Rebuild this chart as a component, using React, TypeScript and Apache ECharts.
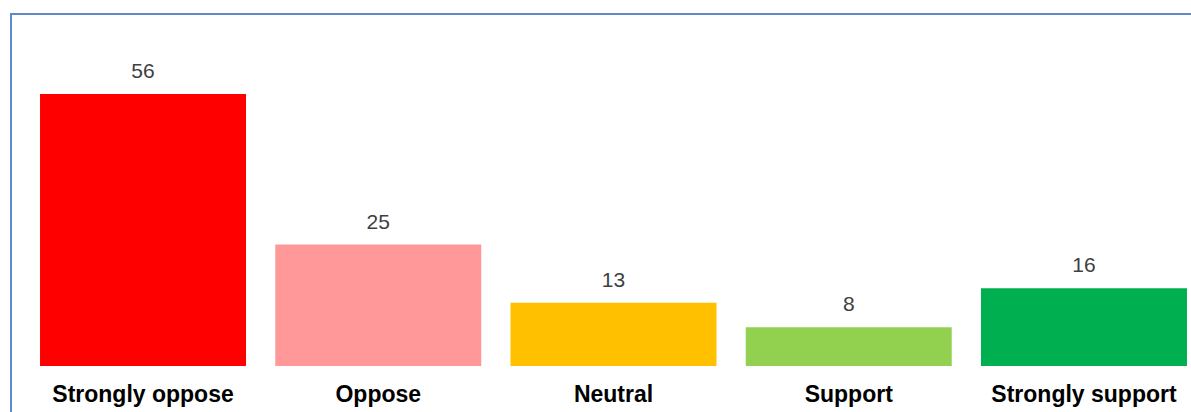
import React, { useEffect, useRef } from "react";
import * as echarts from "echarts";

const categories = ["Strongly oppose", "Oppose", "Neutral", "Support", "Strongly support"];
const values = [56, 25, 13, 8, 16];
const barColors = ["#FF0000", "#FF9999", "#FFC000", "#92D050", "#00B050"];

export default function App() {
  const ref = useRef<HTMLDivElement>(null);
  useEffect(() => {
    if (!ref.current) return;
    const chart = echarts.init(ref.current, undefined, { renderer: "svg" });
    chart.setOption({
      animation: false,
      backgroundColor: "#ffffff",
      grid: { left: 25.4, width: 1176.2, top: 94, bottom: 46 },
      xAxis: {
        type: "category",
        data: categories,
        axisLine: { show: false },
        axisTick: { show: false },
        axisLabel: {
          color: "#000000",
          fontWeight: "bold",
          fontSize: 23,
          fontFamily: "Liberation Sans, Arial, sans-serif",
          margin: 16.5,
          interval: 0,
        },
      },
      yAxis: {
        type: "value",
        min: 0,
        max: 56,
        show: false,
        splitLine: { show: false },
      },
      series: [
        {
          type: "bar",
          data: values.map((v, i) => ({ value: v, itemStyle: { color: barColors[i] } })),
          barWidth: 206,
          label: {
            show: true,
            position: "top",
            distance: 13,
            color: "#404040",
            fontSize: 21,
            fontFamily: "Liberation Sans, Arial, sans-serif",
          },
        },
      ],
      graphic: [
        {
          type: "rect",
          shape: { x: 11, y: 14, width: 1400, height: 600 },
          style: { fill: "none", stroke: "#5E8ACB", lineWidth: 2 },
          silent: true,
          z: 100,
        },
      ],
    });
    return () => chart.dispose();
  }, []);
  return (
    <div style={{ position: "fixed", left: 0, top: 0, width: 1191, height: 412, overflow: "hidden" }}>
      <div ref={ref} style={{ width: 1240, height: 412 }} />
    </div>
  );
}
